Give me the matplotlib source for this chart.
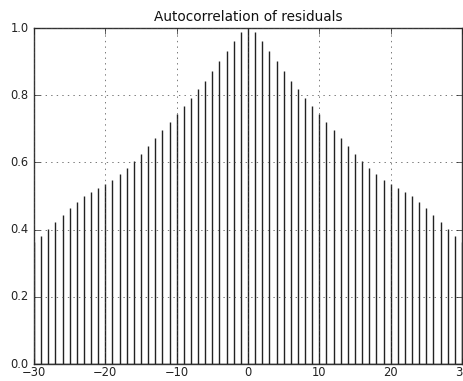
import numpy as np
import matplotlib
matplotlib.use('Agg')
import matplotlib.pyplot as plt

# autocorrelation at lags 0..30 (symmetric)
pos_lags = list(range(0, 31))
pos_vals = [1.000, 0.987, 0.961, 0.932, 0.901, 0.871, 0.842, 0.817, 0.791, 0.768,
            0.744, 0.719, 0.695, 0.672, 0.648, 0.625, 0.603, 0.582, 0.565, 0.549,
            0.535, 0.523, 0.511, 0.499, 0.483, 0.463, 0.443, 0.422, 0.402, 0.381,
            0.364]

lags = np.array([-l for l in pos_lags[:0:-1]] + pos_lags)
vals = np.array(pos_vals[:0:-1] + pos_vals)

plt.style.use('classic')
fig = plt.figure(figsize=(4.64, 3.81), dpi=100, facecolor='white')
ax = fig.add_axes([34 / 464, 1 - 364 / 381, 428 / 464, 336 / 381])

ax.vlines(lags, 0, vals, colors='#222222', linewidth=1)
ax.axhline(0, color='k', linewidth=1)

ax.set_xlim(-30, 30)
ax.set_ylim(0, 1)
ax.set_xticks([-30, -20, -10, 0, 10, 20, 30])
ax.set_yticks([0.0, 0.2, 0.4, 0.6, 0.8, 1.0])
ax.tick_params(labelsize=8.3, direction='in', colors='#222222')
ax.tick_params(axis='x', pad=1.5)
for s in ax.spines.values():
    s.set_color('#333333')
ax.grid(True, linestyle=':', color='#444444', linewidth=0.5)
ax.set_title('Autocorrelation of residuals', fontsize=9.8, color='#111111')

fig.savefig('out.png', dpi=100, facecolor='white')
